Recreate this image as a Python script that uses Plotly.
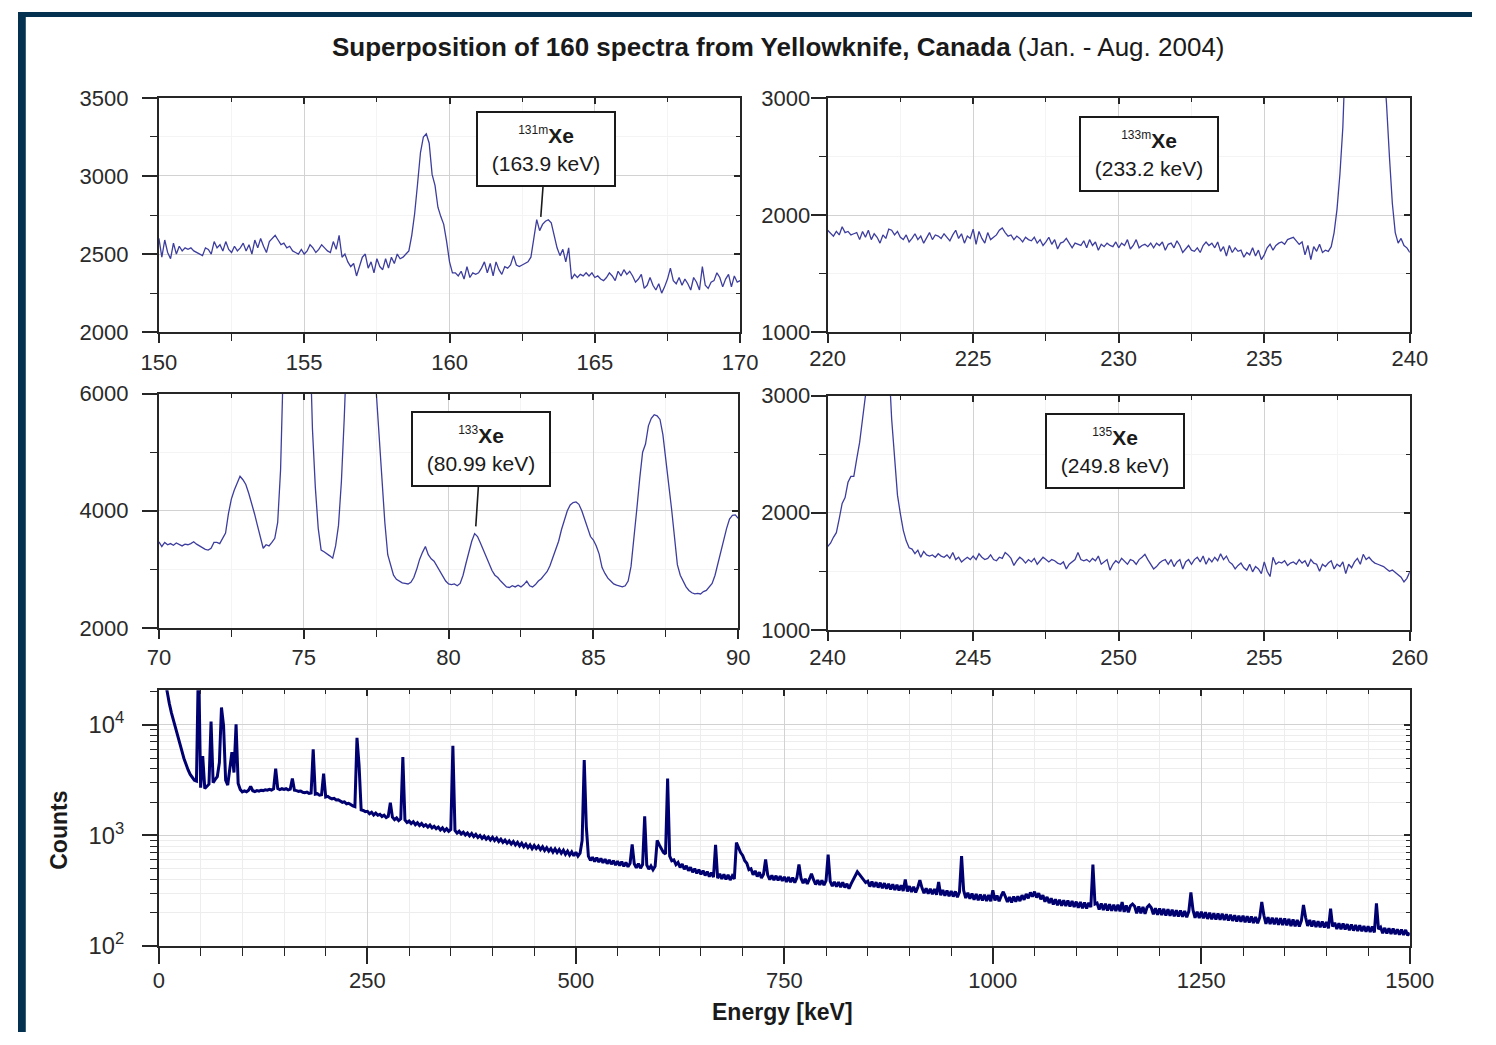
import plotly.graph_objects as go

W, H = 1496, 1045
FONT = "Liberation Sans, Arial, Helvetica, sans-serif"

# ---------------- data (counts per channel) ----------------
# Inset 1: 150-170 keV, 0.1 keV channels
inset1_start, inset1_step = 150.0, 0.1
inset1_counts = [
    2600, 2480, 2590, 2510, 2470, 2570, 2500, 2550, 2520, 2540,
    2530, 2540, 2520, 2510, 2500, 2490, 2540, 2530, 2500, 2580,
    2540, 2560, 2520, 2580, 2530, 2510, 2550, 2520, 2540, 2570,
    2520, 2560, 2500, 2590, 2540, 2600, 2550, 2510, 2580, 2600,
    2620, 2590, 2560, 2570, 2540, 2550, 2520, 2510, 2500, 2530,
    2500, 2520, 2560, 2540, 2510, 2530, 2560, 2540, 2520, 2510,
    2580, 2530, 2620, 2480, 2500, 2450, 2420, 2440, 2360, 2420,
    2480, 2500, 2410, 2450, 2380, 2470, 2420, 2400, 2470, 2410,
    2480, 2440, 2500, 2470, 2480, 2500, 2520, 2620, 2760, 2950,
    3150, 3250, 3270, 3210, 3010, 2940, 2800, 2740, 2690, 2580,
    2450, 2380, 2380, 2360, 2390, 2340, 2420, 2350, 2380, 2370,
    2380, 2410, 2450, 2380, 2440, 2360, 2450, 2400, 2370, 2420,
    2410, 2430, 2490, 2430, 2420, 2430, 2440, 2450, 2480, 2600,
    2720, 2650, 2690, 2710, 2720, 2700, 2610, 2540, 2490, 2530,
    2450, 2540, 2340, 2370, 2350, 2370, 2360, 2380, 2360, 2380,
    2350, 2360, 2340, 2330, 2350, 2380, 2360, 2330, 2390, 2360,
    2400, 2370, 2390, 2360, 2320, 2340, 2370, 2280, 2300, 2350,
    2300, 2270, 2310, 2250, 2290, 2340, 2410, 2330, 2310, 2350,
    2300, 2340, 2310, 2270, 2350, 2320, 2270, 2420, 2300, 2280,
    2320, 2330, 2380, 2350, 2290, 2340, 2370, 2290, 2360, 2320,
    2330,
]

# Inset 2: 220-240 keV
inset2_start, inset2_step = 220.0, 0.1
inset2_counts = [
    1870, 1840, 1820, 1860, 1830, 1900, 1850, 1860, 1830, 1840,
    1850, 1790, 1860, 1810, 1870, 1790, 1840, 1810, 1760, 1830,
    1800, 1880, 1870, 1830, 1860, 1810, 1790, 1830, 1770, 1800,
    1840, 1790, 1820, 1760, 1810, 1850, 1790, 1830, 1820, 1800,
    1840, 1810, 1780, 1830, 1870, 1800, 1840, 1760, 1820, 1800,
    1880, 1750, 1860, 1800, 1760, 1850, 1790, 1810, 1830, 1870,
    1890, 1850, 1820, 1830, 1790, 1820, 1800, 1770, 1810, 1790,
    1780, 1810, 1760, 1790, 1740, 1770, 1810, 1750, 1790, 1710,
    1760, 1770, 1800, 1760, 1720, 1760, 1750, 1740, 1780, 1720,
    1790, 1740, 1770, 1700, 1750, 1730, 1760, 1740, 1730, 1770,
    1720, 1760, 1740, 1790, 1710, 1740, 1790, 1720, 1740, 1750,
    1730, 1760, 1720, 1760, 1740, 1770, 1700, 1750, 1760, 1720,
    1780, 1740, 1680, 1710, 1740, 1700, 1690, 1720, 1680, 1740,
    1770, 1740, 1760, 1720, 1770, 1690, 1730, 1650, 1740, 1680,
    1720, 1690, 1700, 1640, 1680, 1660, 1720, 1650, 1700, 1620,
    1660, 1720, 1750, 1700, 1740, 1760, 1770, 1750, 1790, 1800,
    1810, 1780, 1750, 1770, 1660, 1740, 1620, 1730, 1690, 1750,
    1680, 1700, 1690, 1730, 1850, 2050, 2350, 2750, 3200, 4000,
    5000, 6000, 6900, 7500, 7700, 7600, 7200, 6400, 5400, 4400,
    3700, 3300, 2950, 2500, 2100, 1850, 1760, 1800, 1740, 1720,
    1680,
]

# Inset 3: 70-90 keV
inset3_start, inset3_step = 70.0, 0.1
inset3_counts = [
    3470, 3390, 3460, 3420, 3440, 3410, 3450, 3420, 3400, 3430,
    3420, 3440, 3470, 3430, 3400, 3380, 3340, 3330, 3360, 3460,
    3460, 3440, 3530, 3620, 3950, 4200, 4350, 4470, 4590, 4530,
    4450, 4300, 4140, 3950, 3750, 3550, 3360, 3420, 3400, 3460,
    3530, 3800, 4700, 6600, 9000, 11500, 13500, 14500, 14800, 14300,
    12500, 10000, 7200, 5400, 4400, 3700, 3330, 3300, 3270, 3230,
    3190, 3400, 3750, 4500, 5600, 7200, 9000, 10500, 11000, 10800,
    10200, 9500, 8800, 7800, 6800, 6000, 5300, 4600, 3800, 3250,
    3050, 2900, 2830, 2800, 2770, 2760, 2750, 2780, 2860, 3000,
    3170, 3290, 3390, 3250, 3180, 3140, 3060, 2970, 2880, 2800,
    2750, 2740, 2750, 2720, 2760, 2900, 3100, 3300, 3480, 3610,
    3560, 3450, 3330, 3200, 3080, 2980, 2900, 2860, 2800, 2750,
    2700, 2690, 2720, 2700, 2730, 2700, 2740, 2800, 2720, 2700,
    2740, 2800, 2840, 2900, 2960, 3060, 3200, 3330, 3480, 3680,
    3860, 4000, 4100, 4140, 4150, 4110, 4000, 3860, 3720, 3560,
    3500, 3400, 3260, 3030, 2930, 2850, 2800, 2750, 2730, 2710,
    2700, 2720, 2800, 3050, 3500, 4030, 4550, 5000, 5140, 5450,
    5580, 5640, 5620, 5560, 5300, 4920, 4450, 4030, 3600, 3080,
    2900, 2800, 2700, 2640, 2600, 2580, 2590, 2580, 2620, 2640,
    2700, 2760, 2900, 3100, 3300, 3530, 3700, 3860, 3920, 3930,
    3870,
]

# Inset 4: 240-260 keV
inset4_start, inset4_step = 240.0, 0.1
inset4_counts = [
    1710, 1740, 1790, 1830, 1950, 2080, 2130, 2260, 2310, 2310,
    2460, 2600, 2800, 3000, 3500, 4200, 4800, 5100, 5200, 5000,
    4300, 3300, 2800, 2450, 2150, 1990, 1850, 1760, 1700, 1690,
    1650, 1680, 1620, 1670, 1640, 1630, 1640, 1620, 1650, 1630,
    1620, 1640, 1610, 1660, 1600, 1620, 1580, 1600, 1620, 1600,
    1630, 1600, 1650, 1620, 1600, 1610, 1640, 1600, 1590, 1620,
    1610, 1660, 1640, 1610, 1550, 1590, 1620, 1600, 1570, 1600,
    1580, 1610, 1560, 1590, 1620, 1600, 1580, 1600, 1590, 1570,
    1560, 1580, 1520, 1560, 1580, 1600, 1660, 1600, 1590, 1600,
    1580, 1610, 1590, 1630, 1560, 1580, 1600, 1510, 1560, 1590,
    1570, 1610, 1580, 1560, 1600, 1590, 1560, 1600, 1620, 1645,
    1600, 1560, 1520, 1540, 1570, 1590, 1600, 1560, 1600, 1540,
    1580, 1600, 1520, 1580, 1600, 1560, 1600, 1620, 1580, 1630,
    1560, 1610, 1580, 1620, 1590, 1650, 1600, 1630, 1580, 1560,
    1520, 1550, 1570, 1530, 1510, 1560, 1495, 1540, 1520, 1480,
    1580, 1500, 1455, 1620, 1560, 1580, 1570, 1590, 1550, 1570,
    1580, 1560, 1600, 1570, 1590, 1540, 1600, 1570, 1560, 1500,
    1560, 1540, 1570, 1590, 1520, 1560, 1540, 1580, 1480, 1560,
    1530, 1580, 1610, 1560, 1645, 1600, 1620, 1590, 1570, 1560,
    1550, 1540, 1520, 1500, 1510, 1490, 1470, 1450, 1410, 1440,
    1495,
]

# Full spectrum: 0-1500 keV, 2.5 keV bins
full_start, full_step = 0.0, 2.5
full_counts = [
    80000, 50000, 34000, 25000, 19000, 15500, 12800, 10800, 9300, 8000,
    6800, 5800, 4950, 4350, 3900, 3550, 3300, 3150, 3100, 42000,
    2700, 5200, 2650, 2750, 2900, 10700, 3000, 3200, 3400, 4550,
    14300, 9800, 3150, 2850, 4050, 5650, 3700, 10100, 2950, 2600,
    2470, 2520, 2480, 2560, 2770, 2530, 2490, 2540, 2510, 2560,
    2540, 2580, 2560, 2610, 2570, 2630, 4000, 2650, 2590, 2640,
    2600, 2640, 2580, 2620, 3270, 2560, 2540, 2500, 2520, 2450,
    2430, 2460, 2400, 2420, 6000, 2360, 2380, 2310, 2330, 3620,
    2220, 2250, 2180, 2140, 2160, 2090, 2100, 2030, 1990, 2010,
    1930, 1950, 1880, 1850, 1820, 7600, 4300, 1700, 1680, 1640,
    1650, 1570, 1620, 1530, 1590, 1520, 1550, 1480, 1520, 1450,
    1490, 1970, 1460, 1390, 1440, 1360, 1410, 5100, 1380, 1310,
    1350, 1280, 1330, 1250, 1300, 1230, 1280, 1210, 1250, 1190,
    1240, 1170, 1210, 1150, 1190, 1120, 1170, 1100, 1150, 1090,
    1130, 6440, 1110, 1050, 1090, 1030, 1070, 1010, 1050, 990,
    1040, 975, 1020, 960, 1000, 940, 985, 925, 965, 910,
    960, 900, 945, 880, 925, 865, 905, 850, 890, 835,
    880, 820, 865, 805, 850, 790, 835, 775, 820, 760,
    810, 760, 800, 745, 790, 730, 775, 720, 760, 705,
    755, 700, 745, 690, 735, 675, 720, 665, 710, 655,
    705, 650, 690, 900, 4800, 1200, 650, 595, 635, 580,
    630, 575, 620, 565, 610, 555, 600, 550, 590, 540,
    585, 535, 580, 525, 570, 520, 560, 830, 555, 510,
    555, 505, 545, 1490, 540, 495, 530, 490, 525, 900,
    820, 760, 700, 680, 3270, 650, 590, 600, 545, 570,
    515, 550, 495, 530, 480, 515, 465, 500, 455, 490,
    445, 480, 435, 470, 425, 460, 420, 820, 410, 450,
    405, 445, 400, 440, 395, 430, 405, 860, 780, 700,
    660, 590, 560, 490, 500, 440, 478, 425, 465, 412,
    445, 605, 440, 398, 436, 395, 432, 392, 428, 388,
    422, 380, 420, 378, 416, 375, 413, 545, 410, 370,
    405, 365, 402, 450, 398, 360, 395, 357, 392, 355,
    390, 670, 385, 348, 380, 344, 378, 340, 376, 338,
    365, 330, 365, 400, 440, 470, 445, 420, 400, 375,
    385, 345, 382, 342, 378, 338, 374, 334, 370, 330,
    365, 325, 362, 322, 358, 318, 355, 315, 400, 312,
    348, 309, 344, 305, 340, 395, 336, 300, 333, 297,
    330, 294, 327, 291, 380, 288, 321, 285, 318, 282,
    315, 280, 312, 277, 309, 650, 318, 272, 303, 268,
    298, 262, 296, 260, 293, 258, 291, 256, 289, 254,
    320, 258, 286, 254, 284, 310, 280, 250, 278, 248,
    280, 252, 282, 255, 288, 262, 296, 270, 305, 280,
    310, 275, 300, 265, 288, 252, 278, 245, 270, 238,
    265, 234, 262, 232, 260, 230, 258, 228, 255, 226,
    252, 222, 250, 220, 248, 219, 246, 225, 545, 240,
    245, 214, 243, 212, 241, 210, 239, 208, 237, 207,
    237, 206, 250, 204, 233, 202, 231, 240, 229, 198,
    228, 198, 226, 196, 224, 235, 222, 194, 220, 192,
    219, 191, 217, 189, 215, 188, 213, 186, 211, 185,
    210, 184, 208, 182, 206, 306, 212, 180, 204, 179,
    204, 178, 202, 176, 200, 175, 198, 174, 197, 173,
    196, 172, 194, 170, 192, 169, 190, 167, 188, 166,
    188, 164, 186, 163, 185, 162, 183, 161, 181, 250,
    190, 159, 182, 158, 181, 157, 180, 156, 179, 155,
    178, 154, 176, 152, 174, 151, 172, 150, 170, 235,
    182, 152, 172, 150, 170, 149, 168, 148, 167, 147,
    165, 145, 218, 150, 163, 143, 161, 142, 160, 141,
    158, 139, 157, 138, 155, 137, 154, 136, 152, 135,
    151, 134, 150, 133, 243, 142, 148, 131, 146, 130,
    145, 129, 144, 128, 142, 127, 141, 126, 140, 125,
    132,
]

# Label boxes
label_isotopes = ["131m", "133m", "133", "135"]
label_energies = ["163.9", "233.2", "80.99", "249.8"]

title_bold = "Superposition of 160 spectra from Yellowknife, Canada"
title_rest = " (Jan. - Aug. 2004)"
x_title = "Energy [keV]"
y_title = "Counts"


def channel_energies(start, step, n):
    return [round(start + k * step, 4) for k in range(n)]


# ---------------- figure ----------------
INSET_COLOR = "#3d3d9e"
FULL_COLOR = "#000070"
AX_COLOR = "#262626"
TICK_FONT = dict(family=FONT, size=22, color="#2a2a2a")
LOG_TICK_FONT = dict(family=FONT, size=19, color="#2a2a2a")

series = [
    (inset1_start, inset1_step, inset1_counts, "x", "y", INSET_COLOR, 1.3),
    (inset2_start, inset2_step, inset2_counts, "x2", "y2", INSET_COLOR, 1.3),
    (inset3_start, inset3_step, inset3_counts, "x3", "y3", INSET_COLOR, 1.3),
    (inset4_start, inset4_step, inset4_counts, "x4", "y4", INSET_COLOR, 1.3),
    (full_start, full_step, full_counts, "x5", "y5", FULL_COLOR, 3.0),
]

fig = go.Figure()
for start, step, counts, xa, ya, col, lw in series:
    fig.add_trace(go.Scatter(
        x=channel_energies(start, step, len(counts)), y=counts,
        mode="lines", line=dict(color=col, width=lw),
        xaxis=xa, yaxis=ya, showlegend=False, hoverinfo="skip"))

# panel geometry (pixels) and axis settings
panels = [
    dict(px=(145, 743), py=(88, 328), xr=[150, 170], yr=[2000, 3500], xd=5, xm=2.5, yd=500, ym=250,
         log=False, ystand=9, xlen=9, xmlen=7, xstand=0),
    dict(px=(833, 1432), py=(88, 328), xr=[220, 240], yr=[1000, 3000], xd=5, xm=2.5, yd=1000, ym=500,
         log=False, ystand=-4, xlen=9, xmlen=7, xstand=-4),
    dict(px=(145, 741), py=(391, 631), xr=[70, 90], yr=[2000, 6000], xd=5, xm=2.5, yd=2000, ym=1000,
         log=False, ystand=9, xlen=9, xmlen=7, xstand=0),
    dict(px=(833, 1432), py=(393, 633), xr=[240, 260], yr=[1000, 3000], xd=5, xm=2.5, yd=1000, ym=500,
         log=False, ystand=-4, xlen=9, xmlen=7, xstand=-2),
    dict(px=(145, 1432), py=(695, 957), xr=[0, 1500], yr=[2, 4.31], xd=250, xm=50, yd=1, ym="D1",
         log=True, ystand=14, xlen=16, xmlen=8, xstand=-3),
]

layout = {}
for i, p in enumerate(panels, start=1):
    sx = "" if i == 1 else str(i)
    xdom = [p["px"][0] / W, p["px"][1] / W]
    ydom = [1 - p["py"][1] / H, 1 - p["py"][0] / H]
    yid = "y" if i == 1 else f"y{i}"
    xid = "x" if i == 1 else f"x{i}"
    grid_minor = "#ededed" if p["log"] else "#f4f4f4"
    layout["xaxis" + sx] = dict(
        domain=xdom, anchor=yid, range=p["xr"], dtick=p["xd"], tick0=0,
        showline=True, linecolor=AX_COLOR, linewidth=2, mirror=True,
        ticks="outside", ticklen=p["xlen"], tickwidth=1.5, tickcolor=AX_COLOR,
        ticklabelstandoff=p["xstand"],
        showgrid=True, gridcolor="#d2d2d2", gridwidth=1, zeroline=False,
        tickfont=TICK_FONT,
        minor=dict(dtick=p["xm"], ticks="outside", ticklen=p["xmlen"], tickwidth=1.3,
                   tickcolor=AX_COLOR, showgrid=True, gridcolor=grid_minor),
    )
    ycfg = dict(
        domain=ydom, anchor=xid, range=p["yr"], dtick=p["yd"],
        showline=True, linecolor=AX_COLOR, linewidth=2, mirror=True,
        ticks="outside", ticklen=15, tickwidth=1.5, tickcolor=AX_COLOR,
        ticklabelstandoff=p["ystand"],
        showgrid=True, gridcolor="#d2d2d2", gridwidth=1, zeroline=False,
        tickfont=TICK_FONT,
        minor=dict(dtick=p["ym"], ticks="outside", ticklen=7, tickwidth=1.3,
                   tickcolor=AX_COLOR, showgrid=True, gridcolor=grid_minor),
    )
    if p["log"]:
        ycfg.update(type="log", exponentformat="power", showexponent="all",
                    tickfont=LOG_TICK_FONT)
    else:
        ycfg.update(tick0=0)
    layout["yaxis" + sx] = ycfg

    # mirrored axes carrying inward ticks on top / right
    j = i + 5
    layout[f"xaxis{j}"] = dict(
        overlaying=xid, side="top", anchor=yid, range=p["xr"], dtick=p["xd"], tick0=0,
        ticks="inside", ticklen=6, tickwidth=1.5, tickcolor=AX_COLOR,
        showticklabels=False, showgrid=False, showline=False, zeroline=False,
        minor=dict(dtick=p["xm"], ticks="inside", ticklen=4, tickwidth=1.3,
                   tickcolor=AX_COLOR, showgrid=False),
    )
    ymir = dict(
        overlaying=yid, side="right", anchor=xid, range=p["yr"], dtick=p["yd"],
        ticks="inside", ticklen=6, tickwidth=1.5, tickcolor=AX_COLOR,
        showticklabels=False, showgrid=False, showline=False, zeroline=False,
        minor=dict(dtick=p["ym"], ticks="inside", ticklen=4, tickwidth=1.3,
                   tickcolor=AX_COLOR, showgrid=False),
    )
    if p["log"]:
        ymir.update(type="log")
    else:
        ymir.update(tick0=0)
    layout[f"yaxis{j}"] = ymir
    fig.add_trace(go.Scatter(x=[None], y=[None], xaxis=f"x{j}", yaxis=yid,
                             mode="lines", showlegend=False, hoverinfo="skip"))
    fig.add_trace(go.Scatter(x=[None], y=[None], xaxis=xid, yaxis=f"y{j}",
                             mode="lines", showlegend=False, hoverinfo="skip"))

annotations = []
# isotope label boxes: (panel axes, anchor data point, pixel offset, arrow)
label_places = [
    ("x", "y", 163.14, 2738, 5, -68, True),
    ("x2", "y2", 231.04, 2517, 0, 0, False),
    ("x3", "y3", 80.94, 3733, 5, -77, True),
    ("x4", "y4", 249.87, 2525, 0, 0, False),
]
for iso, en, (xa, ya, xv, yv, axo, ayo, arrow) in zip(label_isotopes, label_energies, label_places):
    txt = (f"<sup><span style='font-size:12px'>{iso}</span></sup>"
           f"<b>Xe</b><br>({en} keV)")
    a = dict(xref=xa, yref=ya, x=xv, y=yv, text=txt,
             font=dict(family=FONT, size=21, color="#1a1a1a"),
             bordercolor="#1a1a1a", borderwidth=2, borderpad=2, bgcolor="white",
             width=132, height=68, align="center", valign="middle")
    if arrow:
        a.update(showarrow=True, ax=axo, ay=ayo, arrowhead=0, arrowwidth=1.6,
                 arrowcolor="#1a1a1a", standoff=0)
    else:
        a.update(showarrow=False, xanchor="center", yanchor="middle")
    annotations.append(a)

annotations.append(dict(
    xref="paper", yref="paper", x=782 / W, y=1 - 36 / H, showarrow=False,
    xanchor="center", yanchor="middle",
    text=f"<b>{title_bold}</b>{title_rest}",
    font=dict(family=FONT, size=26, color="#1a1a1a")))
annotations.append(dict(
    xref="paper", yref="paper", x=42 / W, y=1 - 838 / H, showarrow=False,
    xanchor="center", yanchor="middle", textangle=-90,
    text=f"<b>{y_title}</b>", font=dict(family=FONT, size=23, color="#1a1a1a")))
annotations.append(dict(
    xref="paper", yref="paper", x=787 / W, y=1 - 1025 / H, showarrow=False,
    xanchor="center", yanchor="middle",
    text=f"<b>{x_title}</b>", font=dict(family=FONT, size=23, color="#1a1a1a")))

shapes = [
    dict(type="rect", xref="paper", yref="paper", x0=0, x1=8 / W, y0=0, y1=1,
         fillcolor="#03314f", line=dict(width=0), layer="above"),
    dict(type="rect", xref="paper", yref="paper", x0=0, x1=1, y0=1 - 5 / H, y1=1,
         fillcolor="#03314f", line=dict(width=0), layer="above"),
]

fig.update_layout(
    width=W, height=H, margin=dict(l=0, r=0, t=0, b=0),
    paper_bgcolor="white", plot_bgcolor="white",
    font=dict(family=FONT, color="#1a1a1a"),
    annotations=annotations, shapes=shapes, showlegend=False,
    **layout,
)

fig.write_html(
    "out.html",
    config={"displayModeBar": False},
    post_script="document.body.style.margin='0px';document.body.style.overflow='hidden';",
)
